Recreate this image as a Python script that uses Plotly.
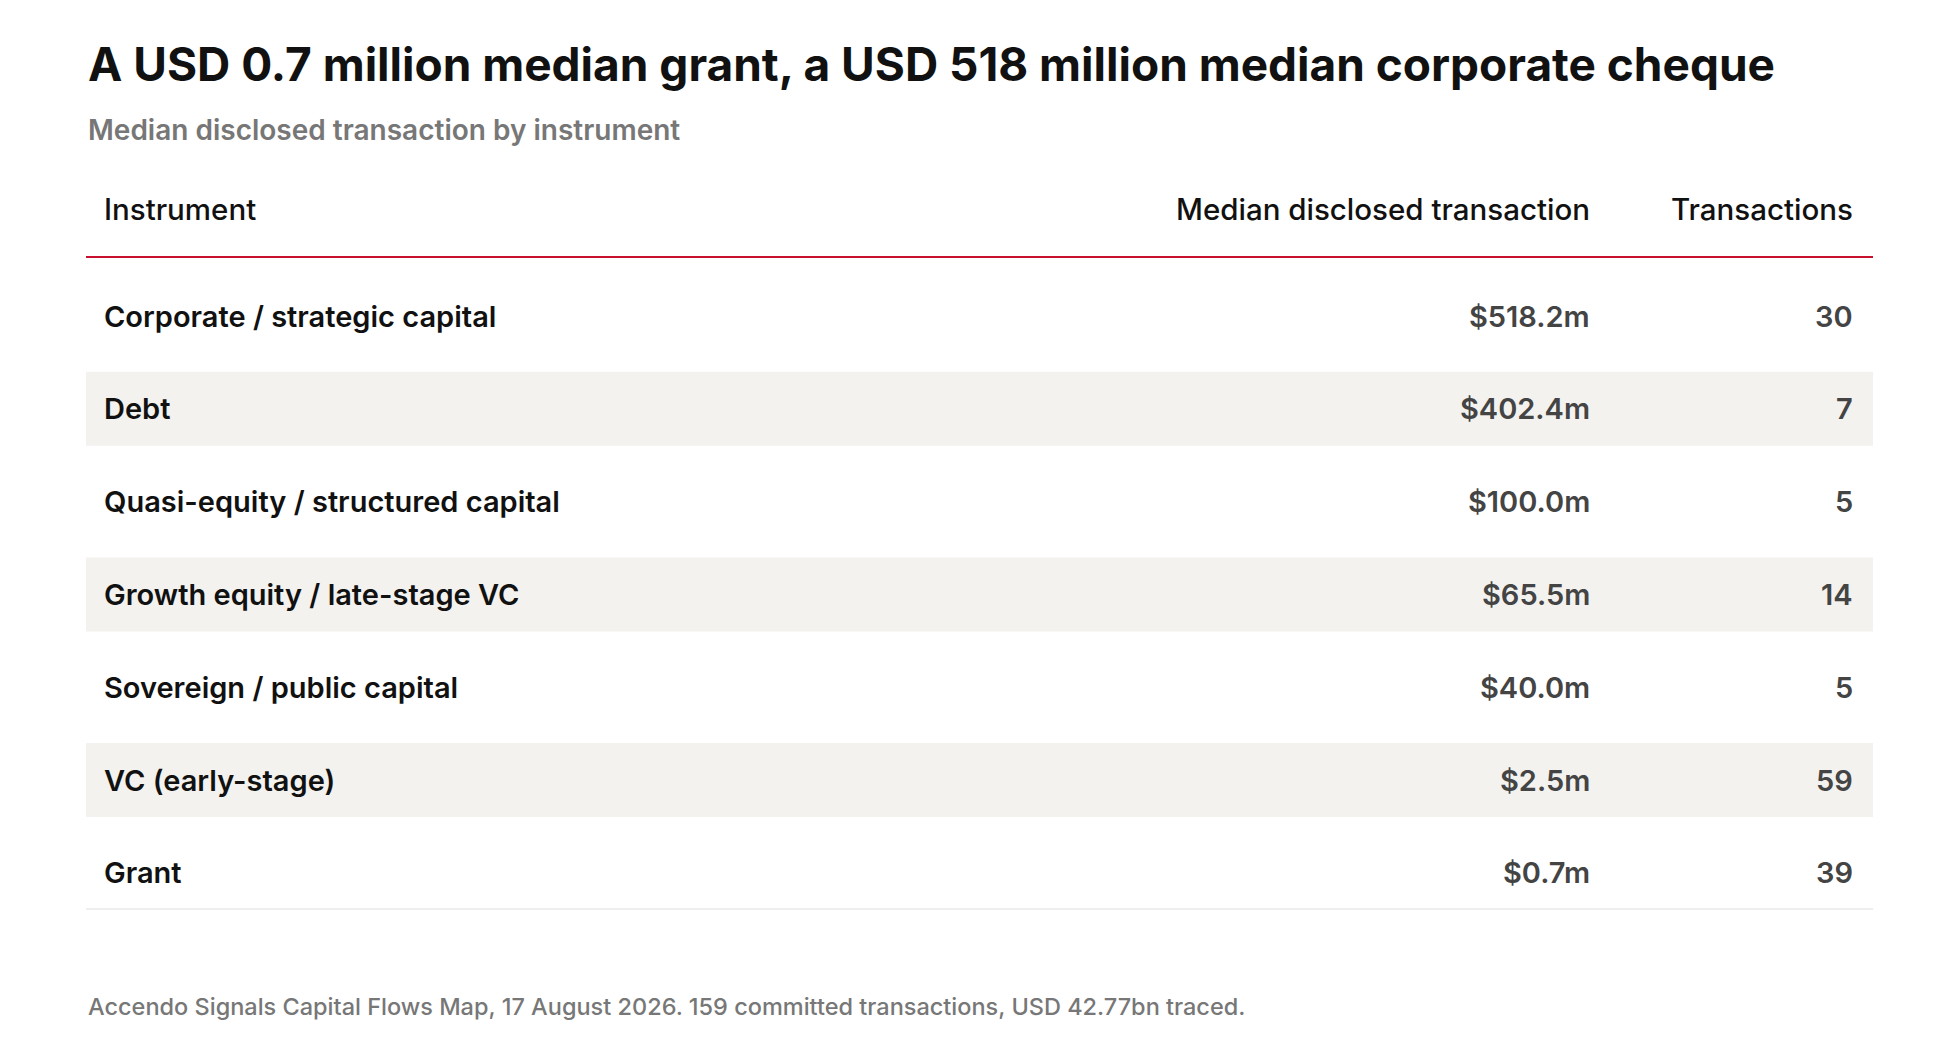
import plotly.graph_objects as go

instruments = ["Corporate / strategic capital", "Debt", "Quasi-equity / structured capital",
               "Growth equity / late-stage VC", "Sovereign / public capital", "VC (early-stage)", "Grant"]
median_m = [518.2, 402.4, 100.0, 65.5, 40.0, 2.5, 0.7]
transactions = [30, 7, 5, 14, 5, 59, 39]

W, H = 1940, 1057
FONT = "Inter"
left, right = 78, 1865
row0, pitch = 308, 92.8

fig = go.Figure()
shapes = []
ann = []

def txt(x, y, s, size, color, anchor="left", weight=600):
    ann.append(dict(x=x, y=y, text=s, showarrow=False, xanchor=anchor, yanchor="middle",
                    font=dict(family=FONT, size=size, color=color, weight=weight)))

txt(left, 56, "A USD 0.7 million median grant, a USD 518 million median corporate cheque", 46, "#111", weight=700)
txt(left, 122, "Median disclosed transaction by instrument", 28, "#777")
txt(94, 201, "Instrument", 29.5, "#111", weight=500)
txt(1584, 201, "Median disclosed transaction", 29.5, "#111", "right", 500)
txt(1847, 201, "Transactions", 29.5, "#111", "right", 500)
shapes.append(dict(type="line", x0=left, x1=right, y0=249, y1=249, line=dict(color="#c8102e", width=2)))

for i, (name, med, n) in enumerate(zip(instruments, median_m, transactions)):
    y = row0 + i * pitch
    if i % 2 == 1:
        shapes.append(dict(type="rect", x0=left, x1=right, y0=y - 37, y1=y + 37,
                           fillcolor="#f3f2ef", line=dict(width=0), layer="below"))
    txt(94, y, name, 29, "#111")
    txt(1584, y, f"${med:.1f}m", 29, "#444", "right")
    txt(1847, y, str(n), 29, "#444", "right")

shapes.append(dict(type="line", x0=left, x1=right, y0=901, y1=901, line=dict(color="#dddddd", width=1)))
txt(left, 998, "Accendo Signals Capital Flows Map, 17 August 2026. 159 committed transactions, USD 42.77bn traced.", 23.5, "#777", weight=500)

fig.update_layout(width=W, height=H, margin=dict(l=0, r=0, t=0, b=0),
                  paper_bgcolor="white", plot_bgcolor="white",
                  xaxis=dict(range=[0, W], visible=False, fixedrange=True),
                  yaxis=dict(range=[H, 0], visible=False, fixedrange=True),
                  shapes=shapes, annotations=ann, showlegend=False)
fig.write_html("out.html")
